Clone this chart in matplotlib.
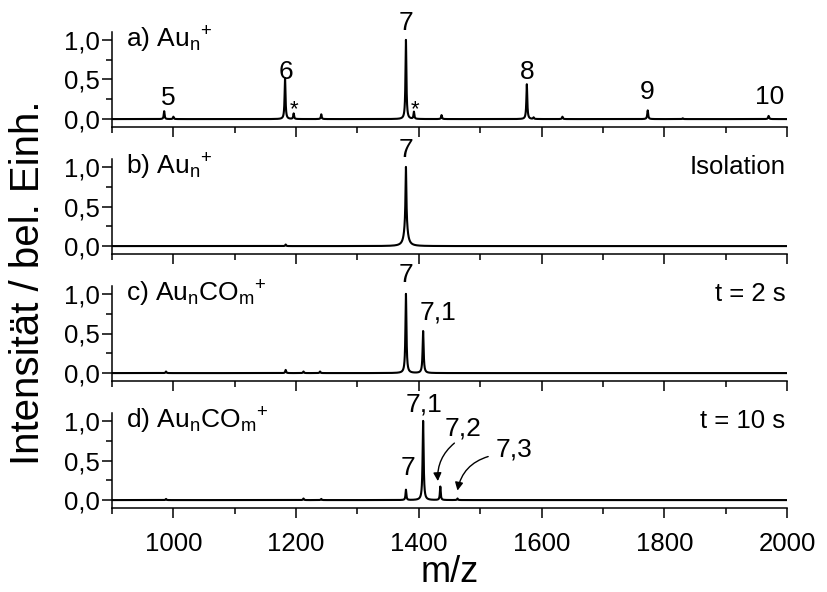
import numpy as np
import matplotlib
matplotlib.use("Agg")
import matplotlib.pyplot as plt
from matplotlib.ticker import MultipleLocator, FixedLocator

plt.rcParams['font.family'] = ['Liberation Sans', 'DejaVu Sans']
plt.rcParams['mathtext.fontset'] = 'custom'
plt.rcParams['mathtext.rm'] = 'Liberation Sans'
plt.rcParams['mathtext.it'] = 'Liberation Sans:italic'

# ---- data: peak lists (m/z, relative intensity) for each spectrum ----
a_mz     = [985, 1000, 1182, 1196, 1241, 1379, 1392, 1437, 1576, 1587, 1634, 1773, 1830, 1970]
a_height = [0.10, 0.03, 0.52, 0.07, 0.06, 1.00, 0.09, 0.05, 0.44, 0.02, 0.03, 0.11, 0.01, 0.04]
a_width  = [0.8, 0.8, 0.9, 0.8, 0.8, 0.9, 0.8, 0.8, 0.9, 0.8, 0.8, 0.9, 0.8, 0.9]

b_mz     = [1183, 1379, 1379]
b_height = [0.02, 0.70, 0.30]
b_width  = [0.8, 0.8, 3.0]

c_mz     = [988, 1183, 1212, 1239, 1379, 1407]
c_height = [0.02, 0.04, 0.02, 0.02, 1.00, 0.53]
c_width  = [0.8, 0.8, 0.8, 0.8, 1.0, 1.0]

d_mz     = [988, 1212, 1241, 1379, 1407, 1435, 1463]
d_height = [0.015, 0.02, 0.015, 0.13, 1.00, 0.17, 0.02]
d_width  = [0.8, 0.8, 0.8, 0.8, 1.0, 0.8, 0.8]

panel_titles = [r"a) Au$_\mathrm{n}$$^\mathrm{+}$",
                r"b) Au$_\mathrm{n}$$^\mathrm{+}$",
                r"c) Au$_\mathrm{n}$CO$_\mathrm{m}$$^\mathrm{+}$",
                r"d) Au$_\mathrm{n}$CO$_\mathrm{m}$$^\mathrm{+}$"]
panel_notes = ["", "Isolation", "t = 2 s", "t = 10 s"]

# peak annotations: (text, m/z, y)
a_labels = [("5", 992, 0.27), ("6", 1184, 0.59), ("7", 1379, 1.21),
            ("8", 1577, 0.59), ("9", 1772, 0.34), ("10", 1972, 0.28)]
a_stars = [(1196, 0.12), (1394, 0.12)]
b_labels = [("7", 1379, 1.21)]
c_labels = [("7", 1379, 1.24), ("7,1", 1431, 0.77)]
d_labels = [("7", 1383, 0.40), ("7,1", 1408, 1.21)]

x_ticks = [1000, 1200, 1400, 1600, 1800, 2000]
y_ticks = [0.0, 0.5, 1.0]
y_tick_labels = ["0,0", "0,5", "1,0"]

mz = np.linspace(900, 2000, 11001)


def spectrum(centers, heights, widths):
    y = np.zeros_like(mz)
    for c, h, w in zip(centers, heights, widths):
        y += h * w ** 2 / (w ** 2 + (mz - c) ** 2)
    return y


W, H = 827, 592
fig = plt.figure(figsize=(W / 100, H / 100), dpi=100)

left_px, right_px = 112, 787
tops_px = [32, 159, 286, 413]
height_px = 95

series = [(a_mz, a_height, a_width), (b_mz, b_height, b_width),
          (c_mz, c_height, c_width), (d_mz, d_height, d_width)]
labels = [a_labels, b_labels, c_labels, d_labels]

FS = 18.5

axes = []
for i, top in enumerate(tops_px):
    ax = fig.add_axes([left_px / W, 1 - (top + height_px) / H,
                       (right_px - left_px) / W, height_px / H])
    axes.append(ax)
    ax.plot(mz, spectrum(*series[i]), color='black', lw=1.5)
    ax.set_xlim(900, 2000)
    ax.set_ylim(-0.1, 1.1)
    for s in ('top', 'right'):
        ax.spines[s].set_visible(False)
    for s in ('left', 'bottom'):
        ax.spines[s].set_linewidth(1.1)
    ax.xaxis.set_major_locator(FixedLocator(x_ticks))
    ax.xaxis.set_minor_locator(MultipleLocator(100))
    ax.yaxis.set_major_locator(FixedLocator(y_ticks))
    ax.yaxis.set_minor_locator(MultipleLocator(0.25))
    ax.set_yticklabels(y_tick_labels)
    ax.tick_params(which='major', direction='out', length=7, width=1.1,
                   labelsize=FS)
    ax.tick_params(which='minor', direction='out', length=4, width=1.1)
    ax.tick_params(axis='y', pad=2)
    ax.tick_params(axis='x', pad=10)
    if i < 3:
        ax.tick_params(axis='x', labelbottom=False)
    ax.text(922, 1.0, panel_titles[i], fontsize=19, va='center', ha='left')
    if panel_notes[i]:
        ax.text(1997, 1.0, panel_notes[i], fontsize=FS, va='center', ha='right')
    for txt, x, y in labels[i]:
        ax.text(x, y, txt, fontsize=19, ha='center', va='center')

for x, y in a_stars:
    axes[0].text(x, y, "*", fontsize=16, ha='center', va='center')

# curved arrows for the weak CO adducts in panel d
axd = axes[3]
axd.text(1472, 0.90, "7,2", fontsize=19, ha='center', va='center')
axd.text(1555, 0.64, "7,3", fontsize=19, ha='center', va='center')
axd.annotate("", xy=(1431, 0.24), xytext=(1458, 0.72),
             arrowprops=dict(arrowstyle='-|>', connectionstyle='arc3,rad=0.25',
                             color='black', lw=1.0, mutation_scale=12,
                             shrinkA=0, shrinkB=0))
axd.annotate("", xy=(1463, 0.12), xytext=(1513, 0.55),
             arrowprops=dict(arrowstyle='-|>', connectionstyle='arc3,rad=0.3',
                             color='black', lw=1.0, mutation_scale=12,
                             shrinkA=0, shrinkB=0))

fig.text(28 / W, 1 - 283 / H, "Intensität / bel. Einh.", rotation=90,
         fontsize=29, ha='center', va='center')
fig.text((left_px + right_px) / 2 / W, 1 - 573 / H, "m/z",
         fontsize=26, ha='center', va='center')

fig.savefig("out.png", dpi=100)
